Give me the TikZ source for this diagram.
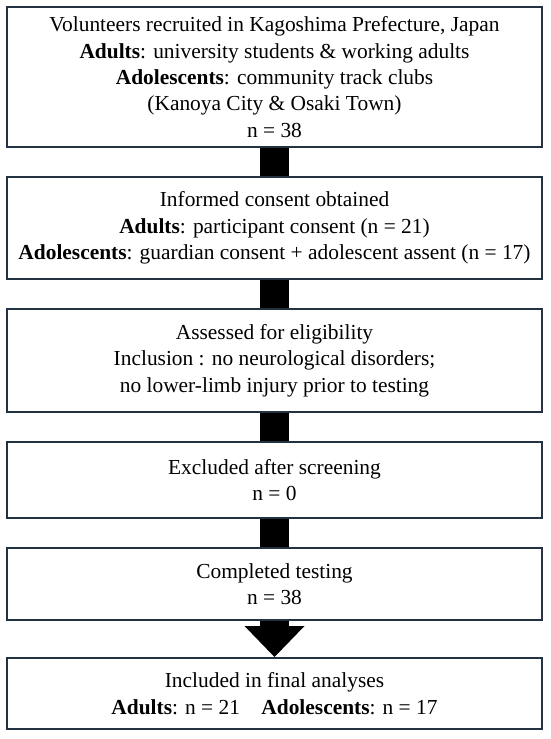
\documentclass[tikz,border=0pt]{standalone}
\usepackage{fontspec}
\setmainfont{Liberation Serif}
\usetikzlibrary{calc}
\definecolor{boxline}{HTML}{233240}
\tikzset{
  stagebox/.style={draw=boxline, line width=2pt, fill=white, rectangle, inner sep=0pt,
    minimum width=535pt, align=center, text=black,
    font=\fontsize{21.4}{26.4}\selectfont,
    execute at begin node={\rule{0pt}{25pt}}},
  link/.style={line width=29pt, draw=black}
}
\begin{document}
\begin{tikzpicture}[x=1pt,y=1pt]
\useasboundingbox (0,0) rectangle (550,-739);
\node[stagebox, minimum height=140pt] (b1) at (274.5,-77) {Volunteers recruited in Kagoshima Prefecture, Japan\\
\textbf{Adults}: university students \& working adults\\
\textbf{Adolescents}: community track clubs\\
(Kanoya City \& Osaki Town)\\
n = 38};
\node[stagebox, minimum height=102pt] (b2) at (274.5,-228) {Informed consent obtained\\
\textbf{Adults}: participant consent (n = 21)\\
\textbf{Adolescents}: guardian consent + adolescent assent (n = 17)};
\node[stagebox, minimum height=103pt] (b3) at (274.5,-360.5) {Assessed for eligibility\\
Inclusion : no neurological disorders;\\
no lower-limb injury prior to testing};
\node[stagebox, minimum height=76pt] (b4) at (274.5,-480) {Excluded after screening\\
n = 0};
\node[stagebox, minimum height=72pt] (b5) at (274.5,-584) {Completed testing\\
n = 38};
\node[stagebox, minimum height=71pt] (b6) at (274.5,-693.5) {Included in final analyses\\
\textbf{Adults}: n = 21\quad \textbf{Adolescents}: n = 17};
\draw[link] (b1.south) -- (b2.north);
\draw[link] (b2.south) -- (b3.north);
\draw[link] (b3.south) -- (b4.north);
\draw[link] (b4.south) -- (b5.north);
\draw[link] (b5.south) -- ($(b6.north)+(0,30)$);
\fill[black] ($(b6.north)+(-30,31)$) -- ($(b6.north)+(30,31)$) -- (b6.north) -- cycle;
\end{tikzpicture}
\end{document}
